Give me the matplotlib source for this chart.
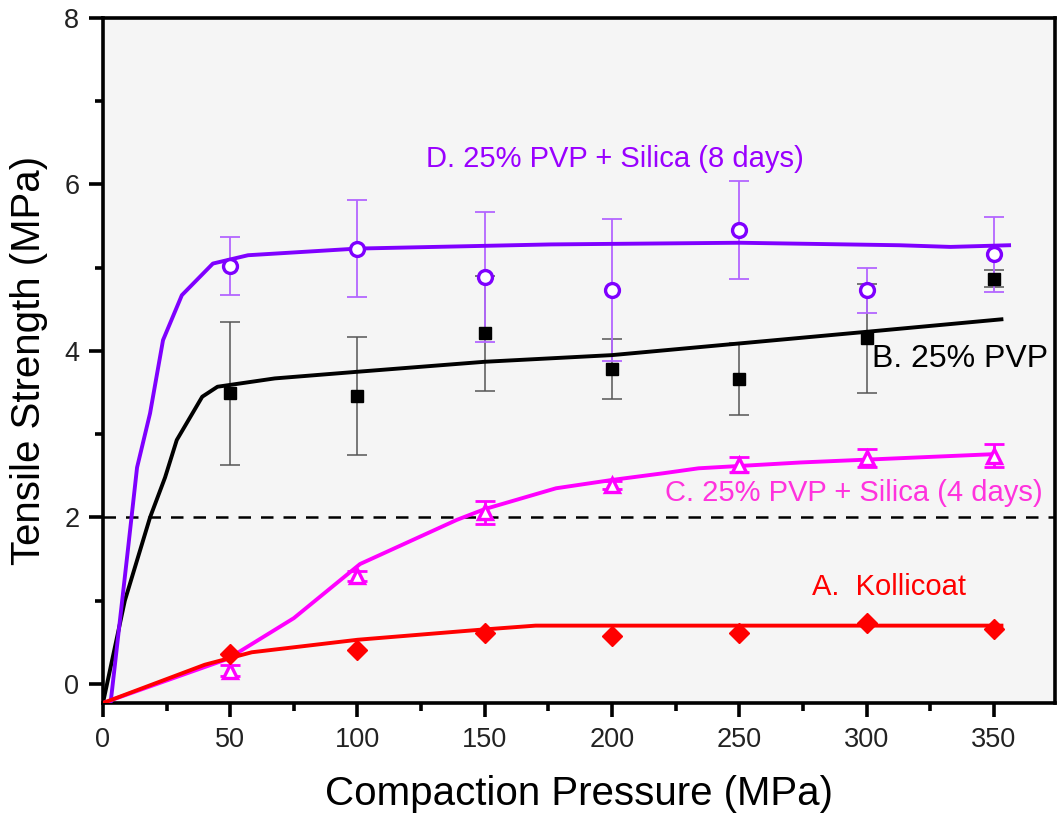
import matplotlib
matplotlib.use("Agg")
import matplotlib.pyplot as plt
from matplotlib.ticker import MultipleLocator

plt.rcParams["font.family"] = ["Liberation Sans", "DejaVu Sans"]

# measured points
pressure = [50, 100, 150, 200, 250, 300, 350]

kollicoat = [0.36, 0.41, 0.61, 0.58, 0.61, 0.73, 0.66]

pvp = [3.49, 3.46, 4.21, 3.78, 3.66, 4.15, 4.87]
pvp_err = [0.86, 0.71, 0.69, 0.36, 0.43, 0.66, 0.10]

silica4 = [0.16, 1.30, 2.06, 2.39, 2.63, 2.71, 2.74]
silica4_err = [0.07, 0.06, 0.14, 0.05, 0.09, 0.11, 0.14]

silica8 = [5.02, 5.23, 4.89, 4.73, 5.45, 4.73, 5.16]
silica8_err = [0.35, 0.58, 0.78, 0.85, 0.59, 0.27, 0.45]

# fitted curves
fit_a_x = [0, 40, 58.5, 100, 148, 170, 250, 353]
fit_a_y = [-0.23, 0.23, 0.38, 0.53, 0.65, 0.70, 0.70, 0.70]

fit_b_x = [0, 8.6, 18.5, 24.4, 29, 39, 45, 67.5, 100, 150, 200, 250, 300, 353]
fit_b_y = [-0.23, 1.0, 2.0, 2.48, 2.93, 3.45, 3.57, 3.67, 3.75, 3.87, 3.95, 4.09, 4.23, 4.38]

fit_c_x = [0, 49, 75, 101, 139, 150, 178, 200, 220, 234, 274, 350]
fit_c_y = [-0.23, 0.30, 0.79, 1.44, 1.97, 2.10, 2.35, 2.45, 2.53, 2.59, 2.66, 2.76]

fit_d_x = [0, 3, 9.8, 13.4, 18.5, 23.6, 31, 43.2, 57, 100, 176, 250, 313, 333, 356]
fit_d_y = [-0.23, -0.23, 1.61, 2.6, 3.25, 4.13, 4.67, 5.05, 5.15, 5.23, 5.28, 5.30, 5.27, 5.25, 5.27]

purple = "#7f00ff"
magenta = "#ff00ff"
red = "#ff0000"

fig = plt.figure(figsize=(10.57, 8.19), dpi=100)
ax = fig.add_axes([0.0974, 0.1416, 0.9006, 0.8364])
ax.set_facecolor("#f5f5f5")

ax.axhline(2.0, color="black", lw=1.8, ls=(0, (5, 4)), zorder=1)

# error bars
ax.errorbar(pressure, pvp, yerr=pvp_err, fmt="none", ecolor="#555555",
            elinewidth=1.1, capsize=7.5, capthick=1.1, zorder=2)
ax.errorbar(pressure, silica8, yerr=silica8_err, fmt="none", ecolor="#b366ff",
            elinewidth=1.3, capsize=7.5, capthick=1.3, zorder=2)
ax.errorbar(pressure, silica4, yerr=silica4_err, fmt="none", ecolor=magenta,
            elinewidth=2, capsize=7.5, capthick=2, zorder=2)

# fit lines
ax.plot(fit_b_x, fit_b_y, color="black", lw=2.8, zorder=3)
ax.plot(fit_d_x, fit_d_y, color=purple, lw=2.8, zorder=3)
ax.plot(fit_c_x, fit_c_y, color=magenta, lw=2.8, zorder=3)
ax.plot(fit_a_x, fit_a_y, color=red, lw=2.8, zorder=3)

# markers
ax.plot(pressure, pvp, ls="none", marker="s", ms=9, color="black", zorder=4)
ax.plot(pressure, silica8, ls="none", marker="o", ms=10, mfc="white",
        mec=purple, mew=2.4, zorder=4)
ax.plot(pressure, silica4, ls="none", marker="^", ms=10, mfc="white",
        mec=magenta, mew=2.4, zorder=4)
ax.plot(pressure, kollicoat, ls="none", marker="D", ms=10, color=red, zorder=4)

# labels on curves
ax.text(127, 6.31, "D. 25% PVP + Silica (8 days)", color="#9900ff",
        fontsize=21, va="center")
ax.text(302, 3.9, "B. 25% PVP", color="black", fontsize=23, va="center")
ax.text(221, 2.29, "C. 25% PVP + Silica (4 days)", color="#ff33dd",
        fontsize=21, va="center")
ax.text(278.5, 1.16, "A.  Kollicoat", color=red, fontsize=21, va="center")

ax.set_xlim(0, 374)
ax.set_ylim(-0.23, 8.0)
ax.xaxis.set_major_locator(MultipleLocator(50))
ax.xaxis.set_minor_locator(MultipleLocator(25))
ax.yaxis.set_major_locator(MultipleLocator(2))
ax.yaxis.set_minor_locator(MultipleLocator(1))

for s in ax.spines.values():
    s.set_linewidth(2.6)
ax.tick_params(which="major", direction="out", length=10, width=2.6,
               labelsize=19.5, pad=7, labelcolor="#222222")
ax.tick_params(which="minor", direction="out", length=6, width=2.6)

ax.set_xlabel("Compaction Pressure (MPa)", fontsize=29, labelpad=16)
ax.set_ylabel("Tensile Strength (MPa)", fontsize=29, labelpad=12)

plt.savefig("out.png", dpi=100)
